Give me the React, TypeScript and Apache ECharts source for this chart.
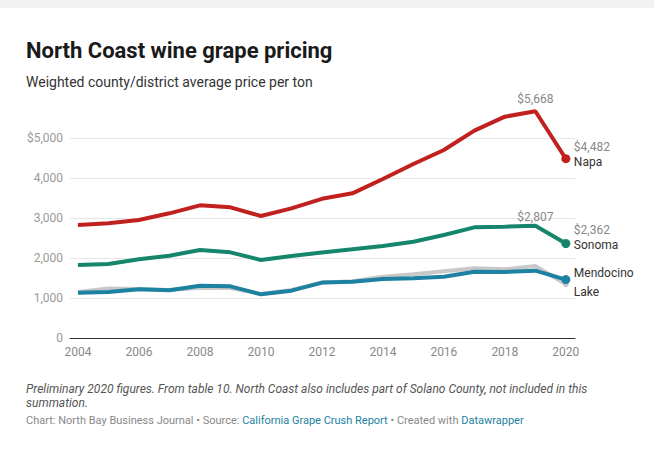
import React, { useEffect, useRef } from "react";
import * as echarts from "echarts";

const years = [2004, 2005, 2006, 2007, 2008, 2009, 2010, 2011, 2012, 2013, 2014, 2015, 2016, 2017, 2018, 2019, 2020];
const napa = [2825, 2867, 2950, 3117, 3317, 3267, 3050, 3242, 3480, 3617, 3975, 4350, 4700, 5183, 5533, 5668, 4482];
const sonoma = [1825, 1850, 1967, 2058, 2200, 2142, 1950, 2050, 2140, 2217, 2300, 2408, 2575, 2767, 2783, 2807, 2362];
const mendocino = [1133, 1150, 1217, 1192, 1308, 1292, 1092, 1183, 1385, 1408, 1475, 1492, 1533, 1658, 1650, 1683, 1460];
const lake = [1150, 1235, 1225, 1200, 1255, 1250, 1100, 1200, 1380, 1420, 1530, 1595, 1670, 1742, 1717, 1800, 1345];
const xTicks = [2004, 2006, 2008, 2010, 2012, 2014, 2016, 2018, 2020];
const yTicks = [0, 1000, 2000, 3000, 4000, 5000];

const fmt = (v: number) => "$" + v.toLocaleString("en-US");

export default function App() {
  const ref = useRef<HTMLDivElement>(null);
  useEffect(() => {
    const chart = echarts.init(ref.current!, null, { renderer: "svg" });
    const last = years.length - 1;
    const mk = (vals: number[]) => vals.map((v, i) => [years[i], v]);
    const dotSize = (size: number) => (_v: any, p: any) => (p.dataIndex === last ? size : 0);
    const font = "Roboto";
    chart.setOption({
      animation: false,
      textStyle: { fontFamily: font },
      title: [
        { text: "North Coast wine grape pricing", left: 26, top: 39, padding: 0, textStyle: { fontFamily: font, fontSize: 22, fontWeight: "bold", color: "#1a1a1a" } },
        { text: "Weighted county/district average price per ton", left: 26, top: 75, padding: 0, textStyle: { fontFamily: font, fontSize: 14, fontWeight: "normal", color: "#333" } },
      ],
      grid: { left: 70, right: 79, top: 138, bottom: 112 },
      xAxis: {
        type: "value", min: 2003.74, max: 2020.3,
        axisLine: { show: true, lineStyle: { color: "#333", width: 1 } },
        axisTick: { show: false },
        splitLine: { show: false },
        axisLabel: { color: "#888", fontSize: 12, margin: 8, customValues: xTicks, formatter: (v: number) => String(v) },
      },
      yAxis: {
        type: "value", min: 0, max: 5000, interval: 1000,
        axisLine: { show: false }, axisTick: { show: false },
        splitLine: { lineStyle: { color: "#e6e6e6" } },
        axisLabel: { color: "#999", fontSize: 12, margin: 7, formatter: (v: number) => (yTicks.includes(v) ? (v === 5000 ? "$5,000" : v.toLocaleString("en-US")) : "") },
      },
      series: [
        {
          type: "line", data: mk(lake), clip: false, symbol: "circle", symbolSize: dotSize(6),
          lineStyle: { color: "#c8c8c8", width: 4 }, itemStyle: { color: "#c8c8c8" },
          endLabel: { show: true, formatter: "Lake", color: "#333", fontSize: 12, offset: [0, 8], distance: 8 },
          z: 1,
        },
        {
          type: "line", data: mk(mendocino), clip: false, symbol: "circle", symbolSize: dotSize(9),
          lineStyle: { color: "#1d81a2", width: 4 }, itemStyle: { color: "#1d81a2" },
          endLabel: { show: true, formatter: "Mendocino", color: "#333", fontSize: 12, offset: [0, -7], distance: 8 },
          z: 2,
        },
        {
          type: "line", clip: false, symbol: "circle", symbolSize: dotSize(9),
          data: mk(sonoma).map((d, i) => i === 15 ? { value: d, label: { show: true, position: "top", distance: 3, formatter: fmt(sonoma[15]), color: "#888", fontSize: 12 } } : d),
          lineStyle: { color: "#15866c", width: 4 }, itemStyle: { color: "#15866c" },
          endLabel: {
            show: true, distance: 8, offset: [0, -6],
            formatter: fmt(sonoma[last]) + "\n{n|Sonoma}",
            color: "#888", fontSize: 12, lineHeight: 15,
            rich: { n: { color: "#333", fontSize: 12, lineHeight: 15 } },
          },
          z: 3,
        },
        {
          type: "line", clip: false, symbol: "circle", symbolSize: dotSize(9),
          data: mk(napa).map((d, i) => i === 15 ? { value: d, label: { show: true, position: "top", distance: 6, formatter: fmt(napa[15]), color: "#888", fontSize: 12 } } : d),
          lineStyle: { color: "#c0211f", width: 4 }, itemStyle: { color: "#c0211f" },
          endLabel: {
            show: true, distance: 8, offset: [0, -4],
            formatter: fmt(napa[last]) + "\n{n|Napa}",
            color: "#888", fontSize: 12, lineHeight: 15,
            rich: { n: { color: "#333", fontSize: 12, lineHeight: 15 } },
          },
          z: 4,
        },
      ],
      graphic: [
        { type: "rect", left: 0, top: 0, shape: { width: 654, height: 8 }, style: { fill: "#f2f2f2" } },
        {
          type: "text", left: 26, top: 382,
          style: {
            text: "Preliminary 2020 figures. From table 10. North Coast also includes part of Solano County, not included in this\nsummation.",
            fontFamily: font, fontSize: 12, fontStyle: "italic", fill: "#555", lineHeight: 14,
          },
        },
        {
          type: "text", left: 26, top: 415,
          style: {
            text: "Chart: North Bay Business Journal • Source: {a|California Grape Crush Report} • Created with {a|Datawrapper}",
            fontFamily: font, fontSize: 11, fill: "#888",
            rich: { a: { fill: "#1d81a2", fontFamily: font, fontSize: 11 } },
          },
        },
      ],
    });
    return () => chart.dispose();
  }, []);
  return <div ref={ref} style={{ position: "fixed", left: 0, top: 0, width: 654, height: 450, background: "#fff" }} />;
}
